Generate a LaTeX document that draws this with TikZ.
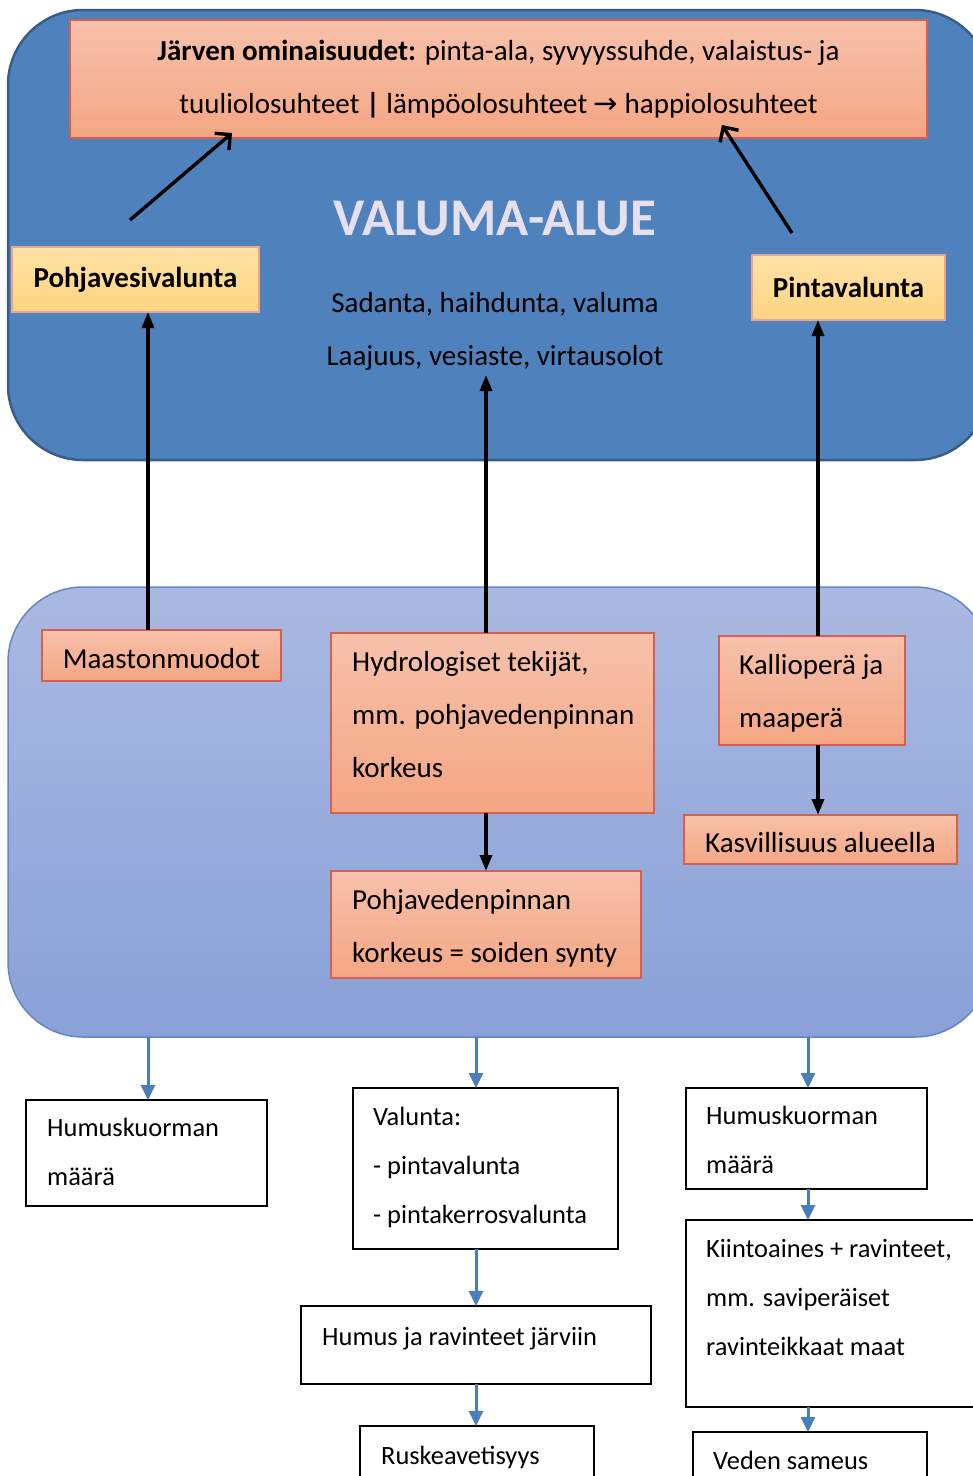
\documentclass[tikz,border=0pt]{standalone}
\usepackage{fontspec}
\setmainfont{Carlito}
\newfontfamily\arrowfont{DejaVu Sans}
\usetikzlibrary{arrows.meta}

\definecolor{areablue}{RGB}{79,129,189}
\definecolor{areaedge}{RGB}{56,93,138}
\definecolor{salmontop}{RGB}{247,193,171}
\definecolor{salmonbot}{RGB}{244,166,131}
\definecolor{salmonedge}{RGB}{212,96,84}
\definecolor{yellowtop}{RGB}{255,226,166}
\definecolor{yellowbot}{RGB}{255,212,128}
\definecolor{yellowedge}{RGB}{234,164,146}
\definecolor{lowtop}{RGB}{170,185,225}
\definecolor{lowbot}{RGB}{137,161,216}
\definecolor{lowedge}{RGB}{96,136,202}
\definecolor{flowblue}{RGB}{74,126,187}
\definecolor{titlecol}{RGB}{230,224,238}

\newcommand\midsize{\fontsize{29}{53}\selectfont}
\newcommand\lowsize{\fontsize{26.4}{49}\selectfont}
\newcommand\titlesize{\fontsize{53}{60}\selectfont}

\begin{document}
\begin{tikzpicture}[x=1pt, y=-1pt,
        area/.style = {rounded corners=75pt, anchor=north west, inner sep=0pt, outer sep=0pt},
        salmonbox/.style = {draw=salmonedge, line width=1.2pt, top color=salmontop, bottom color=salmonbot, anchor=north west, inner sep=0pt, outer sep=0pt},
        yellowbox/.style = {draw=yellowedge, line width=1.2pt, top color=yellowtop, bottom color=yellowbot, inner sep=0pt, outer sep=0pt, font=\midsize\bfseries},
        whitebox/.style = {draw=black, line width=1.4pt, fill=white, anchor=north west, inner sep=0pt, outer sep=0pt},
        notetext/.style = {font=\lowsize, align=left, inner sep=0pt, anchor=north west},
        blackarrow/.style = {line width=3.4pt, -{Triangle[length=16pt, width=12pt]}},
        openarrow/.style = {line width=3.4pt, -{Straight Barb[length=11pt, width=22pt]}},
        bluearrow/.style = {draw=flowblue, line width=3pt, -{Triangle[length=15pt, width=14pt]}, color=flowblue}]
    \useasboundingbox (0,0) rectangle (973,1476);
    \clip (0,0) rectangle (973,1476);

    \coordinate (colA) at (148,0);
    \coordinate (colB) at (486,0);
    \coordinate (colC) at (818,0);
    \coordinate (colD) at (476,0);
    \coordinate (colE) at (808,0);

    \node[area, fill=areablue, draw=areaedge, line width=2.5pt, minimum width=982, minimum height=450] (valuma) at (8,10) {};
    \node[salmonbox, minimum width=857, minimum height=118, align=center, font=\midsize] (lake) at (70,20)
        {\textbf{Järven ominaisuudet:} pinta-ala, syvyyssuhde, valaistus- ja\\tuuliolosuhteet \textbf{|} lämpöolosuhteet {\arrowfont →} happiolosuhteet};
    \node[font=\titlesize\bfseries, text=titlecol] (title) at (495,219) {VALUMA-ALUE};
    \node[font=\midsize, align=center] (factors) at (495,331) {Sadanta, haihdunta, valuma\\Laajuus, vesiaste, virtausolot};
    \node[yellowbox, minimum width=247, minimum height=65] (pohja) at (135.5,279.5) {Pohjavesivalunta};
    \node[yellowbox, minimum width=193, minimum height=65] (pinta) at (848.5,287.5) {Pintavalunta};
    \coordinate (pvtail) at (130,220);
    \coordinate (pvhead) at (232,133);
    \coordinate (pintatail) at (792,233);
    \coordinate (pintahead) at (722,125);
    \coordinate (factorsend) at (486,375);

    \node[area, top color=lowtop, bottom color=lowbot, draw=lowedge, line width=1.5pt, minimum width=982, minimum height=450] (lower) at (8,587) {};
    \node[salmonbox, minimum width=239, minimum height=51, font=\midsize, text height=26pt] (maasto) at (42,630) {Maastonmuodot};
    \node[salmonbox, minimum width=323, minimum height=180] (hydro) at (331,633) {};
    \node[notetext, font=\midsize] (hydrotext) at ([shift={(21,18)}]hydro.north west) {Hydrologiset tekijät,\\mm. pohjavedenpinnan\\korkeus};
    \node[salmonbox, minimum width=186, minimum height=109] (kallio) at (719,636) {};
    \node[notetext, font=\midsize] (kalliotext) at ([shift={(20,18)}]kallio.north west) {Kallioperä ja\\maaperä};
    \node[salmonbox, minimum width=273, minimum height=49, font=\midsize, text height=26pt] (kasvi) at (684,815) {Kasvillisuus alueella};
    \node[salmonbox, minimum width=310, minimum height=107] (pinnan) at (331,871) {};
    \node[notetext, font=\midsize] (pinnantext) at ([shift={(21,18)}]pinnan.north west) {Pohjavedenpinnan\\korkeus = soiden synty};

    \node[whitebox, minimum width=241, minimum height=106] (hum1) at (26,1100) {};
    \node[notetext] (hum1text) at ([shift={(21,18)}]hum1.north west) {Humuskuorman\\määrä};
    \node[whitebox, minimum width=265, minimum height=161] (valunta) at (353,1088) {};
    \node[notetext] (valuntatext) at ([shift={(20,19)}]valunta.north west) {Valunta:\\- pintavalunta\\- pintakerrosvalunta};
    \node[whitebox, minimum width=241, minimum height=101] (hum2) at (686,1088) {};
    \node[notetext] (hum2text) at ([shift={(20,18)}]hum2.north west) {Humuskuorman\\määrä};
    \node[whitebox, minimum width=304, minimum height=187] (kiinto) at (686,1220) {};
    \node[notetext] (kiintotext) at ([shift={(20,19)}]kiinto.north west) {Kiintoaines + ravinteet,\\mm. saviperäiset\\ravinteikkaat maat};
    \node[whitebox, minimum width=234, minimum height=70] (sameus) at (693,1432) {};
    \node[notetext] (sameustext) at ([shift={(20,19)}]sameus.north west) {Veden sameus};
    \node[whitebox, minimum width=350, minimum height=78] (humus) at (301,1306) {};
    \node[notetext] (humustext) at ([shift={(21,21)}]humus.north west) {Humus ja ravinteet järviin};
    \node[whitebox, minimum width=234, minimum height=74] (ruskea) at (360,1426) {};
    \node[notetext] (ruskeatext) at ([shift={(21,20)}]ruskea.north west) {Ruskeavetisyys};

    \draw[openarrow] (pvtail) -- (pvhead);
    \draw[openarrow] (pintatail) -- (pintahead);
    \draw[blackarrow] (maasto.north -| colA) -- (pohja.south -| colA);
    \draw[blackarrow] (hydro.north -| colB) -- (factorsend);
    \draw[blackarrow] (kallio.north -| colC) -- (pinta.south -| colC);
    \draw[blackarrow] (hydro.south -| colB) -- (pinnan.north -| colB);
    \draw[blackarrow] (kallio.south -| colC) -- (kasvi.north -| colC);

    \draw[bluearrow] (lower.south -| colA) -- (hum1.north -| colA);
    \draw[bluearrow] (lower.south -| colD) -- (valunta.north -| colD);
    \draw[bluearrow] (lower.south -| colE) -- (hum2.north -| colE);
    \draw[bluearrow] (hum2.south -| colE) -- (kiinto.north -| colE);
    \draw[bluearrow] (kiinto.south -| colE) -- (sameus.north -| colE);
    \draw[bluearrow] (valunta.south -| colD) -- (humus.north -| colD);
    \draw[bluearrow] (humus.south -| colD) -- (ruskea.north -| colD);
\end{tikzpicture}
\end{document}
